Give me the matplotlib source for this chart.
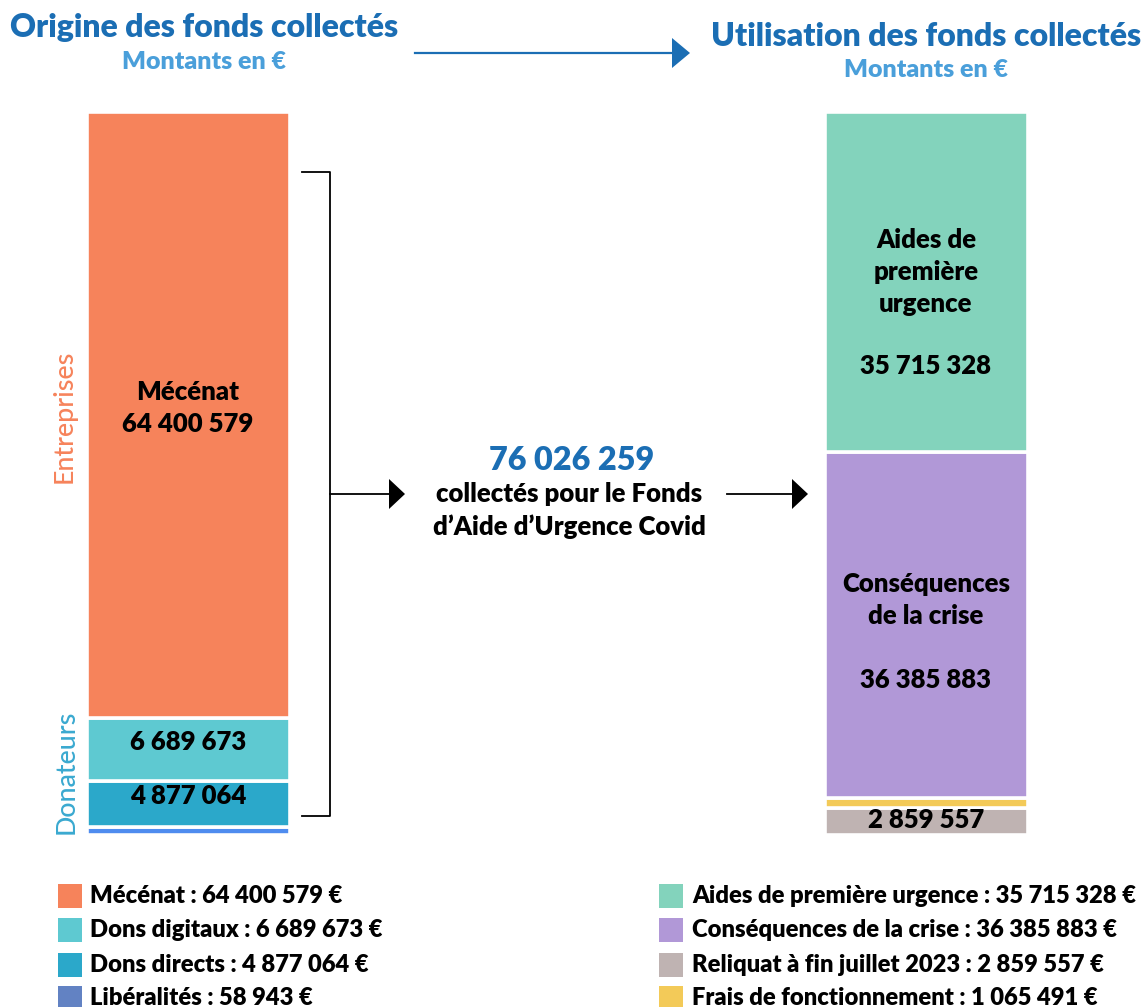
import matplotlib
matplotlib.use("Agg")
import matplotlib.pyplot as plt
from matplotlib.patches import Polygon

plt.rcParams['font.family'] = ['Lato', 'DejaVu Sans']

# ---------------- data ----------------
origin_labels = ["Mécénat", "Dons digitaux", "Dons directs", "Libéralités"]
origin_values = [64400579, 6689673, 4877064, 58943]
origin_colors = ["#F6835B", "#5EC9D1", "#2BA8CA", "#4F8CEF"]
origin_legend_colors = ["#F6835B", "#5EC9D1", "#2BA8CA", "#6282C3"]

use_labels = ["Aides de première urgence", "Conséquences de la crise",
              "Reliquat à fin juillet 2023", "Frais de fonctionnement"]
use_values = [35715328, 36385883, 2859557, 1065491]
use_colors = ["#83D3BC", "#B198D7", "#BFB3B2", "#F3CA58"]

# stacking order (top -> bottom) of the right bar
use_stack = ["Aides de première urgence", "Conséquences de la crise",
             "Frais de fonctionnement", "Reliquat à fin juillet 2023"]

total_collected = 76026259
min_visible = 850000  # floor so tiny segments remain visible


def fmt(v):
    return f"{v:,}".replace(",", " ")


W, H = 1145, 1007
fig = plt.figure(figsize=(W / 100, H / 100), dpi=100)

bar_top, bar_bot = 112, 835
pos = [0, 1 - bar_bot / H, 1, (bar_bot - bar_top) / H]


def stacked(values, colors, xc):
    ax = fig.add_axes(pos)
    shown = [max(v, min_visible) for v in values]
    ax.set_xlim(0, W)
    ax.set_ylim(0, sum(shown))
    ax.axis("off")
    bottom = 0
    for v, c in zip(shown, colors):
        ax.bar(xc, v, bottom=bottom, width=203, color=c,
               edgecolor="white", linewidth=2.6)
        bottom += v
    return ax


axL = stacked(origin_values[::-1], origin_colors[::-1], 188)
order = use_stack[::-1]
rv = [use_values[use_labels.index(n)] for n in order]
rc = [use_colors[use_labels.index(n)] for n in order]
axR = stacked(rv, rc, 926)

ov = fig.add_axes([0, 0, 1, 1])
ov.set_xlim(0, W)
ov.set_ylim(H, 0)
ov.axis("off")
ov.patch.set_alpha(0)

dark_blue = "#1B6EB4"
light_blue = "#4A9FDA"
BW = "heavy"

ov.text(204, 28, "Origine des fonds collectés", ha="center", va="center",
        fontsize=23, fontweight=BW, color=dark_blue)
ov.text(204, 62, "Montants en €", ha="center", va="center",
        fontsize=18, fontweight=BW, color=light_blue)
ov.text(926, 36, "Utilisation des fonds collectés", ha="center", va="center",
        fontsize=23, fontweight=BW, color=dark_blue)
ov.text(926, 70, "Montants en €", ha="center", va="center",
        fontsize=18, fontweight=BW, color=light_blue)

ov.plot([415, 676], [53, 53], color=dark_blue, lw=1.6)
ov.add_patch(Polygon([[672, 38], [690, 53], [672, 68]], closed=True,
                     color=dark_blue, lw=0))

ov.plot([302, 330, 330, 302], [172, 172, 816, 816], color="black", lw=1.3)
ov.plot([330, 392], [494, 494], color="black", lw=1.3)
ov.add_patch(Polygon([[389, 479], [405, 494], [389, 509]], closed=True,
                     color="black", lw=0))
ov.plot([727, 795], [494, 494], color="black", lw=1.3)
ov.add_patch(Polygon([[792, 479], [808, 494], [792, 509]], closed=True,
                     color="black", lw=0))

ov.text(572, 461, fmt(total_collected), ha="center", va="center",
        fontsize=23.3, fontweight=BW, color=dark_blue)
ov.text(569, 494, "collectés pour le Fonds", ha="center", va="center",
        fontsize=18.5, fontweight=BW, color="black")
ov.text(569, 527, "d’Aide d’Urgence Covid", ha="center", va="center",
        fontsize=18.5, fontweight=BW, color="black")

lab_fs = 18.5
ov.text(188, 392, origin_labels[0], ha="center", va="center", fontsize=lab_fs,
        fontweight=BW)
ov.text(188, 424, fmt(origin_values[0]), ha="center", va="center",
        fontsize=lab_fs, fontweight=BW)
ov.text(188, 742, fmt(origin_values[1]), ha="center", va="center",
        fontsize=lab_fs, fontweight=BW)
ov.text(188, 796, fmt(origin_values[2]), ha="center", va="center",
        fontsize=lab_fs, fontweight=BW)

ov.text(926, 272, "Aides de\npremière\nurgence", ha="center", va="center",
        fontsize=lab_fs, fontweight=BW, linespacing=1.4)
ov.text(926, 366, fmt(use_values[0]), ha="center", va="center",
        fontsize=lab_fs, fontweight=BW)
ov.text(926, 600, "Conséquences\nde la crise", ha="center", va="center",
        fontsize=lab_fs, fontweight=BW, linespacing=1.4)
ov.text(926, 680, fmt(use_values[1]), ha="center", va="center",
        fontsize=lab_fs, fontweight=BW)
ov.text(926, 820, fmt(use_values[2]), ha="center", va="center",
        fontsize=lab_fs, fontweight=BW)

ov.text(64, 416, "Entreprises", rotation=90, ha="center", va="center",
        fontsize=19.3, fontweight="medium", color="#F6835B")
ov.text(66, 772, "Donateurs", rotation=90, ha="center", va="center",
        fontsize=19.3, fontweight="medium", color="#3AA9D0")

rows = [896, 930, 965, 998]
leg_fs = 17.1
for y, lab, v, c in zip(rows, origin_labels, origin_values, origin_legend_colors):
    ov.add_patch(plt.Rectangle((58, y - 12), 24, 24, color=c, lw=0))
    ov.text(90, y, f"{lab} : {fmt(v)} €", ha="left", va="center",
            fontsize=leg_fs, fontweight=BW)
for y, lab in zip(rows, use_labels):
    i = use_labels.index(lab)
    ov.add_patch(plt.Rectangle((659, y - 12), 24, 24, color=use_colors[i], lw=0))
    ov.text(692, y, f"{lab} : {fmt(use_values[i])} €", ha="left", va="center",
            fontsize=leg_fs, fontweight=BW)

fig.savefig("out.png", dpi=100)
